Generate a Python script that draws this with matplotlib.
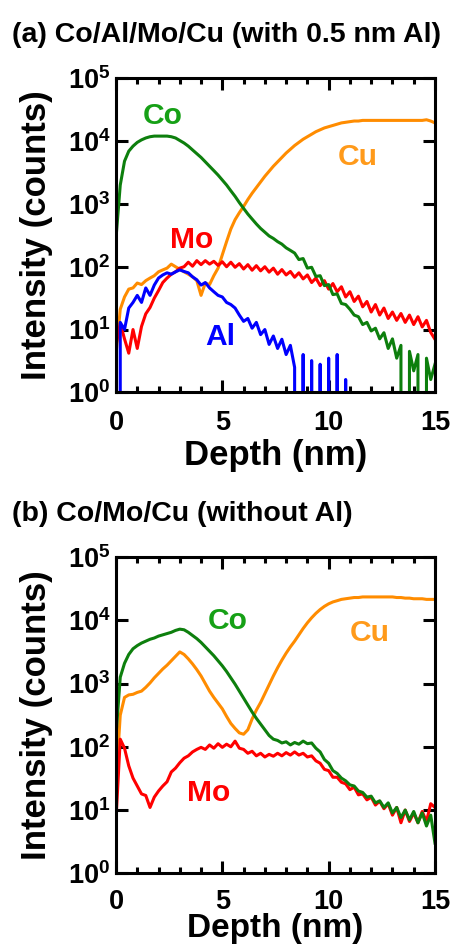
import numpy as np
import matplotlib
matplotlib.use('Agg')
import matplotlib.pyplot as plt
from matplotlib.ticker import FixedLocator, FixedFormatter, MultipleLocator, NullLocator

plt.rcParams['font.family'] = ['Liberation Sans', 'DejaVu Sans']
plt.rcParams['font.weight'] = 'bold'
plt.rcParams['mathtext.fontset'] = 'custom'
plt.rcParams['mathtext.rm'] = 'Liberation Sans:bold'
plt.rcParams['mathtext.bf'] = 'Liberation Sans:bold'
plt.rcParams['mathtext.it'] = 'Liberation Sans:bold'

# ---------------- data (counts) ----------------
depth = np.round(np.arange(0, 15.0001, 0.2), 1)   # nm, 76 samples

# panel (a) Co/Al/Mo/Cu
co_a = [282, 1995, 4786, 6918, 8318, 9550, 10470, 11220, 11750, 12020,
        12020, 12020, 12020, 11750, 11220, 10230, 9330, 8320, 7240, 6310,
        5500, 4680, 3980, 3390, 2880, 2400, 2000, 1620, 1320, 1050,
        850, 690, 575, 480, 407, 355, 309, 282, 251, 229,
        200, 182, 165, 130, 135, 95, 98, 70, 72, 50,
        52, 36, 37, 26, 25, 21, 17, 16, 12, 13,
        9.5, 10.5, 7.1, 8.9, 5, 7.1, 3.5, 5.6, 0, 4.5,
        2.2, 4, 0, 3.5, 1.6, 2.8]
cu_a = [4, 21, 33, 44, 46, 55, 52, 60, 66, 72,
        83, 89, 95, 110, 100, 91, 83, 76, 69, 60,
        35, 55, 52, 72, 95, 155, 251, 398, 562, 724,
        912, 1175, 1479, 1820, 2239, 2754, 3311, 3981, 4677, 5495,
        6457, 7413, 8511, 9550, 10715, 11750, 12880, 14130, 15140, 16220,
        16980, 17780, 18620, 19500, 19950, 20420, 20890, 20890, 21380, 21380,
        21380, 21380, 21380, 21380, 21380, 21380, 21380, 21380, 21380, 21380,
        21380, 21380, 21380, 21880, 20890, 19500]
mo_a = [5.6, 12.6, 7.1, 4.2, 10, 5, 11.2, 17.8, 22.4, 31.6,
        41.7, 56, 66, 76, 83, 95, 100, 118, 102, 125,
        108, 125, 110, 122, 105, 120, 100, 118, 98, 112,
        92, 108, 88, 104, 86, 100, 82, 95, 76, 90,
        74, 84, 68, 80, 64, 74, 56, 66, 50, 60,
        44, 54, 40, 48, 33, 40, 28, 34, 23, 28,
        19, 25, 17, 22, 15, 19, 14, 18, 13, 17,
        12, 16, 11, 14, 9, 7]
al_a = [0, 13, 10, 22, 27, 35, 27, 46, 35, 51,
        66, 74, 80, 76, 83, 89, 84, 80, 69, 62,
        51, 56, 46, 40, 35, 33, 27, 25, 22, 17,
        13.5, 15, 10.5, 13, 8.3, 10, 5.8, 7.9, 5, 7,
        4, 5.6, 2.5, 0, 4, 0, 3.2, 0, 2.8, 0,
        3.5, 0, 4, 0, 1.6, 0, 0]

# panel (b) Co/Mo/Cu
co_b = [148, 1259, 2089, 2884, 3548, 3981, 4365, 4677, 5012, 5248,
        5623, 5888, 6166, 6457, 6918, 7244, 7079, 6457, 5754, 5129,
        4467, 3802, 3236, 2754, 2291, 1905, 1549, 1230, 977, 759,
        589, 457, 355, 282, 229, 186, 151, 132, 126, 115,
        120, 107, 117, 110, 123, 112, 115, 95, 83, 63,
        55, 42, 38, 32, 29, 25, 24, 20, 19, 16,
        16.6, 13, 14, 11, 13, 9, 11, 7.6, 10, 7,
        9.5, 6.3, 9, 5.6, 8.3, 3]
cu_b = [27, 316, 603, 661, 676, 724, 759, 871, 1023, 1230,
        1445, 1698, 1950, 2291, 2692, 3162, 2884, 2455, 2042, 1660,
        1318, 1000, 759, 603, 490, 398, 302, 234, 195, 166,
        158, 186, 275, 380, 501, 692, 955, 1318, 1778, 2344,
        3020, 3802, 4677, 5888, 7413, 9120, 10960, 12880, 14790, 16600,
        18200, 19500, 20400, 21400, 21900, 22400, 22900, 22900, 23400, 23400,
        23400, 23400, 23400, 23400, 23400, 23400, 22900, 22900, 22400, 22400,
        21900, 21900, 21900, 21400, 21400, 21400]
mo_b = [7, 132, 95, 50, 32, 24, 18, 17, 11, 16,
        20, 24, 28, 40, 46, 56, 66, 72, 83, 91,
        98, 91, 107, 95, 112, 98, 110, 100, 123, 95,
        91, 79, 85, 72, 79, 69, 76, 71, 79, 72,
        81, 74, 83, 74, 79, 69, 72, 60, 55, 44,
        42, 33, 33, 27.5, 26, 21, 23, 17.4, 18, 14.5,
        16, 12, 13.8, 10.5, 12.6, 8.3, 11, 6.3, 10, 6.6,
        9, 6.3, 9.5, 6.6, 12.6, 11]

# ---------------- style ----------------
C_CO, C_CO_TXT = '#0d7f0d', '#16a016'
C_CU, C_CU_TXT = '#ff8c00', '#ff9a1a'
C_MO = '#ff0000'
C_AL = '#0000ff'

fig = plt.figure(figsize=(4.54, 9.47), dpi=100)
ax_a = fig.add_axes([0.2555, 0.5857, 0.7026, 0.3316])
ax_b = fig.add_axes([0.2555, 0.0778, 0.7026, 0.3340])

ylabels = [r'$\mathbf{10^{%d}}$' % k for k in range(6)]

def style(ax, xlab_y, xpad, xlab_size):
    ax.set_yscale('log')
    ax.set_xlim(0, 15)
    ax.set_ylim(1, 1e5)
    ax.xaxis.set_major_locator(FixedLocator([0, 5, 10, 15]))
    ax.xaxis.set_minor_locator(MultipleLocator(1))
    ax.yaxis.set_major_locator(FixedLocator([10.0 ** k for k in range(6)]))
    ax.yaxis.set_major_formatter(FixedFormatter(ylabels))
    ax.yaxis.set_minor_locator(NullLocator())
    ax.tick_params(which='both', direction='in', top=True, right=True, width=2.2)
    ax.tick_params(which='major', length=8.5, labelsize=19.5)
    ax.tick_params(axis='x', which='major', pad=xpad)
    ax.tick_params(axis='y', which='major', pad=4)
    ax.tick_params(which='minor', length=4.5)
    for s in ax.spines.values():
        s.set_linewidth(2.2)
    ax.set_xlabel('Depth (nm)', fontsize=xlab_size, fontweight='bold')
    ax.set_ylabel('Intensity (counts)', fontsize=25, fontweight='bold')
    ax.xaxis.set_label_coords(0.5, xlab_y)
    ax.yaxis.set_label_coords(-0.197, 0.5)

lw = 2.2
ax_a.plot(depth, cu_a, color=C_CU, lw=lw)
ax_a.plot(depth, mo_a, color=C_MO, lw=lw)
ax_a.plot(depth, co_a, color=C_CO, lw=lw)
ax_a.plot(depth[:len(al_a)], al_a, color=C_AL, lw=lw)
style(ax_a, -0.150, 13, 25)

tkw = dict(ha='center', va='baseline', fontsize=21.6, fontweight='bold')
ax_a.text(2.21, 10 ** 4.28, 'Co', color=C_CO_TXT, **tkw)
ax_a.text(11.38, 10 ** 3.625, 'Cu', color=C_CU_TXT, **tkw)
ax_a.text(3.56, 10 ** 2.297, 'Mo', color=C_MO, **tkw)
ax_a.text(4.89, 10 ** 0.754, 'Al', color=C_AL, **tkw)

ax_b.plot(depth, cu_b, color=C_CU, lw=lw)
ax_b.plot(depth, mo_b, color=C_MO, lw=lw)
ax_b.plot(depth, co_b, color=C_CO, lw=lw)
style(ax_b, -0.126, 11, 24)

ax_b.text(5.24, 10 ** 3.87, 'Co', color=C_CO_TXT, **tkw)
ax_b.text(11.94, 10 ** 3.68, 'Cu', color=C_CU_TXT, **tkw)
ax_b.text(4.37, 10 ** 1.14, 'Mo', color=C_MO, **tkw)

fig.text(0.0257, 0.956, '(a) Co/Al/Mo/Cu (with 0.5 nm Al)', fontsize=20.5,
         fontweight='bold', ha='left', va='baseline')
fig.text(0.0257, 0.4502, '(b) Co/Mo/Cu (without Al)', fontsize=20.5,
         fontweight='bold', ha='left', va='baseline')

fig.savefig('out.png', dpi=100)
